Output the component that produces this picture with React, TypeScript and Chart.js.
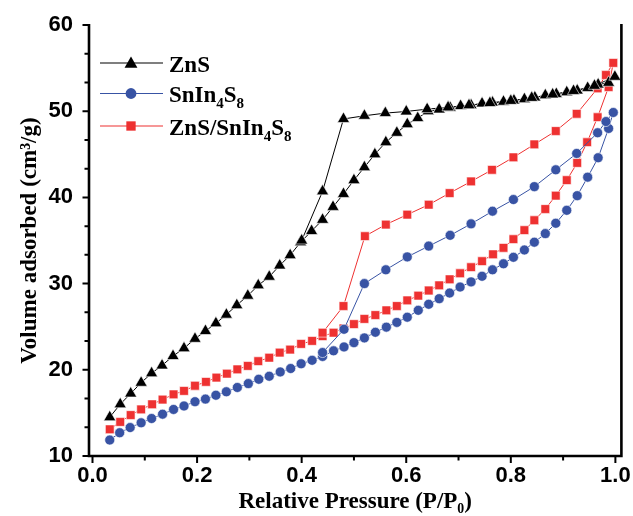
import React, { useEffect, useRef } from 'react';
import { Chart, registerables } from 'chart.js';

Chart.register(...registerables);

// ---------- Data ----------
// ZnS
const znsAdsP = [0.033, 0.053, 0.073, 0.093, 0.113, 0.133, 0.154, 0.175, 0.196, 0.216, 0.236, 0.256, 0.276, 0.297, 0.317, 0.338, 0.358, 0.378, 0.398, 0.419, 0.44, 0.46, 0.48, 0.5, 0.52, 0.54, 0.561, 0.582, 0.602, 0.622, 0.642, 0.663, 0.684, 0.704, 0.724, 0.745, 0.765, 0.786, 0.806, 0.826, 0.846, 0.866, 0.887, 0.907, 0.927, 0.947, 0.967, 0.987, 0.999];
const znsAdsV = [14.5, 16.0, 17.25, 18.5, 19.6, 20.5, 21.6, 22.5, 23.6, 24.5, 25.4, 26.4, 27.5, 28.6, 29.8, 30.8, 32.1, 33.3, 34.8, 36.1, 37.4, 38.9, 40.4, 42.0, 43.5, 45.0, 46.4, 47.5, 48.5, 49.2, 50.0, 50.2, 50.4, 50.6, 50.7, 50.9, 51.0, 51.1, 51.25, 51.4, 51.6, 51.85, 52.0, 52.2, 52.4, 52.7, 53.1, 53.3, 54.0];
const znsDesP = [0.96, 0.92, 0.88, 0.84, 0.8, 0.76, 0.72, 0.68, 0.64, 0.6, 0.56, 0.52, 0.48, 0.44, 0.4];
const znsDesV = [52.95, 52.35, 51.95, 51.55, 51.2, 50.95, 50.7, 50.45, 50.24, 49.97, 49.78, 49.47, 49.1, 40.7, 35.0];

// SnIn4S8
const snAdsP = [0.033, 0.052, 0.072, 0.093, 0.113, 0.134, 0.155, 0.175, 0.196, 0.216, 0.236, 0.256, 0.277, 0.298, 0.318, 0.338, 0.359, 0.379, 0.399, 0.42, 0.44, 0.461, 0.481, 0.5, 0.52, 0.541, 0.562, 0.582, 0.602, 0.623, 0.643, 0.663, 0.683, 0.703, 0.724, 0.745, 0.765, 0.786, 0.805, 0.826, 0.845, 0.866, 0.886, 0.907, 0.927, 0.947, 0.967, 0.987, 0.996];
const snAdsV = [11.85, 12.7, 13.3, 13.85, 14.35, 14.85, 15.4, 15.8, 16.3, 16.6, 17.05, 17.45, 17.95, 18.4, 18.9, 19.25, 19.75, 20.15, 20.7, 21.1, 21.55, 22.2, 22.65, 23.15, 23.7, 24.35, 24.95, 25.5, 26.1, 26.9, 27.6, 28.25, 28.9, 29.6, 30.2, 30.85, 31.6, 32.3, 33.05, 33.9, 34.8, 35.8, 37.0, 38.5, 40.2, 42.35, 44.6, 48.0, 49.85];
const snDesP = [0.982, 0.966, 0.926, 0.886, 0.845, 0.805, 0.765, 0.724, 0.684, 0.643, 0.602, 0.561, 0.52, 0.481, 0.44];
const snDesV = [48.8, 47.5, 45.1, 43.2, 41.25, 39.75, 38.4, 36.93, 35.6, 34.35, 33.1, 31.6, 30.0, 24.7, 22.0];

// ZnS/SnIn4S8
const hetAdsP = [0.033, 0.053, 0.073, 0.093, 0.114, 0.134, 0.155, 0.175, 0.196, 0.217, 0.237, 0.257, 0.277, 0.297, 0.317, 0.338, 0.358, 0.378, 0.399, 0.42, 0.44, 0.461, 0.48, 0.5, 0.52, 0.541, 0.562, 0.582, 0.602, 0.623, 0.643, 0.663, 0.683, 0.703, 0.724, 0.745, 0.766, 0.786, 0.805, 0.826, 0.845, 0.866, 0.886, 0.907, 0.927, 0.946, 0.966, 0.987, 0.996];
const hetAdsV = [13.1, 13.95, 14.75, 15.4, 16.0, 16.55, 17.15, 17.55, 18.15, 18.6, 19.1, 19.55, 20.05, 20.45, 21.0, 21.4, 22.0, 22.35, 23.0, 23.35, 23.9, 24.3, 24.8, 25.3, 25.9, 26.35, 26.9, 27.4, 28.05, 28.6, 29.2, 29.8, 30.5, 31.2, 31.9, 32.6, 33.4, 34.15, 35.15, 36.2, 37.35, 38.65, 40.2, 42.0, 44.0, 46.4, 49.3, 52.8, 55.6];
const hetDesP = [0.982, 0.966, 0.926, 0.886, 0.845, 0.805, 0.764, 0.724, 0.683, 0.643, 0.602, 0.561, 0.521, 0.48, 0.44];
const hetDesV = [54.2, 52.65, 49.7, 47.7, 46.15, 44.65, 43.2, 41.85, 40.5, 39.15, 38.0, 36.85, 35.5, 27.4, 24.3];

// Labels
const seriesNames = ['ZnS', 'SnIn4S8', 'ZnS/SnIn4S8'];
const xTickLabels = ['0.0', '0.2', '0.4', '0.6', '0.8', '1.0'];
const yTickLabels = ['10', '20', '30', '40', '50', '60'];
const xTitle = 'Relative Pressure (P/P\u2080)';
const yTitle = 'Volume adsorbed (cm\u00B3/g)';

// ---------- Styling ----------
const COLORS = ['#000000', '#3853A4', '#EE3131'];
const SHAPES = ['triangle', 'circle', 'rect'];
const RADII = [7, 5, 6.2];
const SERIF = '"Liberation Serif", "Times New Roman", serif';
const SANS = '"Liberation Sans", Arial, sans-serif';

// legend segments, with subscripts
const legendSegments: { t: string; sub?: boolean }[][] = [
  [{ t: 'ZnS' }],
  [{ t: 'SnIn' }, { t: '4', sub: true }, { t: 'S' }, { t: '8', sub: true }],
  [{ t: 'ZnS/SnIn' }, { t: '4', sub: true }, { t: 'S' }, { t: '8', sub: true }],
];

function toPoints(px: number[], vx: number[]) {
  return px.map((p, i) => ({ x: p, y: vx[i] }));
}

function drawMarker(ctx: CanvasRenderingContext2D, shape: string, x: number, y: number, r: number, color: string) {
  ctx.save();
  ctx.fillStyle = color;
  ctx.beginPath();
  if (shape === 'triangle') {
    const w = r * Math.sin(Math.PI / 3);
    ctx.moveTo(x, y - r);
    ctx.lineTo(x + w, y + r / 2);
    ctx.lineTo(x - w, y + r / 2);
    ctx.closePath();
  } else if (shape === 'circle') {
    ctx.arc(x, y, r, 0, Math.PI * 2);
  } else {
    const s = r * Math.SQRT1_2;
    ctx.rect(x - s, y - s, 2 * s, 2 * s);
  }
  ctx.fill();
  ctx.restore();
}

const framePlugin = {
  id: 'frameAndLegend',
  afterDraw(chart: any) {
    const { ctx, chartArea: a, scales } = chart;
    const xs = scales.x;
    const ys = scales.y;
    ctx.save();
    // axis frame (left, bottom, right)
    ctx.strokeStyle = '#000';
    ctx.lineWidth = 2.6;
    ctx.lineJoin = 'miter';
    ctx.beginPath();
    ctx.moveTo(a.left, a.top - 1);
    ctx.lineTo(a.left, a.bottom);
    ctx.lineTo(a.right, a.bottom);
    ctx.lineTo(a.right, a.top - 1);
    ctx.stroke();
    // ticks
    ctx.lineWidth = 2;
    ctx.beginPath();
    for (let i = 0; i <= 10; i++) {
      const px = xs.getPixelForValue(i / 10);
      const len = i % 2 === 0 ? 7 : 4.5;
      ctx.moveTo(px, a.bottom);
      ctx.lineTo(px, a.bottom + len);
    }
    for (let i = 0; i <= 15; i++) {
      const py = ys.getPixelForValue(10 + (i * 10) / 3);
      const len = i % 3 === 0 ? 6.5 : 4.5;
      ctx.moveTo(a.left, py);
      ctx.lineTo(a.left - len, py);
    }
    ctx.stroke();

    // legend
    const rows = [63, 93.5, 126];
    rows.forEach((ly, k) => {
      ctx.strokeStyle = COLORS[k];
      ctx.lineWidth = 1.2;
      ctx.beginPath();
      ctx.moveTo(100, ly);
      ctx.lineTo(163, ly);
      ctx.stroke();
      drawMarker(ctx, SHAPES[k], 131, ly + (SHAPES[k] === 'triangle' ? 1 : 0), RADII[k] + 0.4, COLORS[k]);
      let x = 169;
      const base = ly + 8.5;
      ctx.fillStyle = '#000';
      ctx.textBaseline = 'alphabetic';
      ctx.textAlign = 'left';
      legendSegments[k].forEach((seg) => {
        if (seg.sub) {
          ctx.font = `bold 15px ${SERIF}`;
          ctx.fillText(seg.t, x, base + 6);
        } else {
          ctx.font = `bold 23px ${SERIF}`;
          ctx.fillText(seg.t, x, base);
        }
        x += ctx.measureText(seg.t).width;
      });
    });
    ctx.restore();
  },
};

export default function App() {
  const ref = useRef<HTMLCanvasElement | null>(null);

  useEffect(() => {
    if (!ref.current) return;
    const series = [
      toPoints(znsAdsP.concat(znsDesP), znsAdsV.concat(znsDesV)),
      toPoints(snAdsP.concat(snDesP), snAdsV.concat(snDesV)),
      toPoints(hetAdsP.concat(hetDesP), hetAdsV.concat(hetDesV)),
    ];
    const chart = new Chart(ref.current, {
      type: 'scatter',
      data: {
        datasets: series.map((pts, k) => ({
          label: seriesNames[k],
          data: pts,
          showLine: true,
          borderColor: COLORS[k],
          borderWidth: 1,
          backgroundColor: COLORS[k],
          pointBackgroundColor: COLORS[k],
          pointBorderColor: 'rgba(255,255,255,0.75)',
          pointBorderWidth: 0.8,
          pointStyle: SHAPES[k] as any,
          pointRadius: RADII[k],
          tension: 0,
        })),
      },
      options: {
        responsive: false,
        animation: false,
        devicePixelRatio: 1,
        layout: { padding: { left: 0, right: 11.6, top: 25, bottom: 0 } },
        plugins: {
          legend: { display: false },
          tooltip: { enabled: false },
        },
        scales: {
          x: {
            type: 'linear',
            position: 'bottom',
            min: -0.0067,
            max: 1.0115,
            border: { display: false },
            grid: {
              display: true,
              drawOnChartArea: false,
              drawTicks: true,
              tickLength: 7,
              tickColor: 'rgba(0,0,0,0)',
            },
            ticks: {
              stepSize: 0.1,
              includeBounds: false,
              autoSkip: false,
              maxRotation: 0,
              padding: 0,
              color: '#000',
              font: { family: SANS, size: 22, weight: 'bold' },
              callback: (v: any) => {
                const n = Math.round(Number(v) * 10);
                return n % 2 === 0 ? xTickLabels[n / 2] : '';
              },
            },
            title: {
              display: true,
              text: xTitle,
              color: '#000',
              font: { family: SERIF, size: 23, weight: 'bold' },
              padding: { top: 0, bottom: 0 },
            },
            afterFit: (s: any) => {
              s.height = 60;
            },
          },
          y: {
            type: 'linear',
            min: 10,
            max: 60,
            border: { display: false },
            grid: {
              display: true,
              drawOnChartArea: false,
              drawTicks: true,
              tickLength: 16,
              tickColor: 'rgba(0,0,0,0)',
            },
            ticks: {
              stepSize: 10,
              padding: 0,
              color: '#000',
              font: { family: SANS, size: 22, weight: 'bold' },
              callback: (v: any) => {
                const i = Math.round((Number(v) - 10) / 10);
                return yTickLabels[i] ?? '';
              },
            },
            title: {
              display: true,
              text: yTitle,
              color: '#000',
              font: { family: SERIF, size: 23, weight: 'bold' },
              padding: { top: 16, bottom: 0 },
            },
            afterFit: (s: any) => {
              s.width = 89;
            },
          },
        },
      },
      plugins: [framePlugin],
    });
    return () => chart.destroy();
  }, []);

  return (
    <div style={{ position: 'fixed', left: 0, top: 0, width: 633, height: 516, background: '#fff' }}>
      <canvas ref={ref} width={633} height={516} style={{ display: 'block' }} />
    </div>
  );
}
